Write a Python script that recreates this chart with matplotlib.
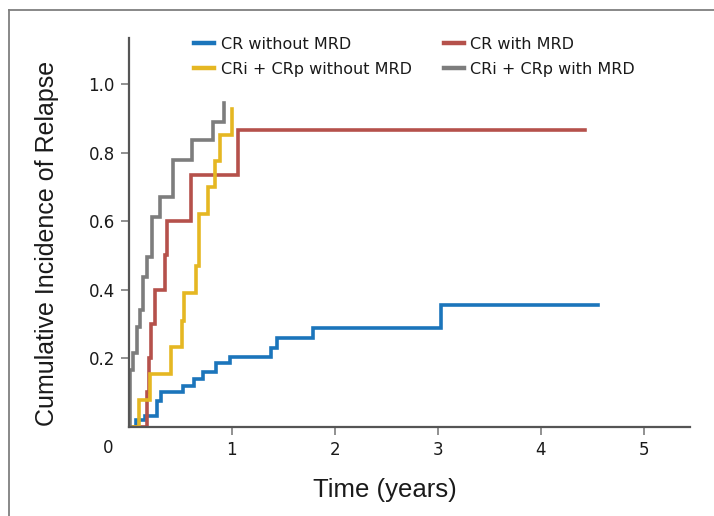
import matplotlib
matplotlib.use("Agg")
import matplotlib.pyplot as plt
from matplotlib.lines import Line2D

# ---- data ----
cr_no_mrd_t = [0, 0.07, 0.16, 0.275, 0.31, 0.53, 0.63, 0.72, 0.85, 0.98, 1.378, 1.437, 1.79, 3.03, 4.56]
cr_no_mrd_v = [0, 0.02, 0.031, 0.075, 0.10, 0.119, 0.139, 0.16, 0.185, 0.204, 0.229, 0.258, 0.289, 0.355, 0.355]

cr_mrd_t = [0, 0.175, 0.20, 0.22, 0.255, 0.35, 0.375, 0.60, 1.065, 4.43]
cr_mrd_v = [0, 0.10, 0.20, 0.30, 0.40, 0.50, 0.60, 0.735, 0.867, 0.867]

cri_no_mrd_t = [0, 0.10, 0.205, 0.41, 0.515, 0.54, 0.655, 0.685, 0.77, 0.835, 0.89, 1.0, 1.0]
cri_no_mrd_v = [0, 0.078, 0.155, 0.233, 0.31, 0.39, 0.47, 0.62, 0.70, 0.775, 0.853, 0.928, 0.928]

cri_mrd_t = [0, 0.013, 0.045, 0.078, 0.11, 0.142, 0.175, 0.23, 0.30, 0.434, 0.61, 0.82, 0.925, 0.925]
cri_mrd_v = [0, 0.165, 0.214, 0.29, 0.34, 0.437, 0.496, 0.613, 0.67, 0.78, 0.837, 0.89, 0.945, 0.945]

labels = ["CR without MRD", "CR with MRD", "CRi + CRp without MRD", "CRi + CRp with MRD"]
colors = ["#1b75bb", "#b5514b", "#e5b723", "#7d7d7d"]
x_ticks = [1, 2, 3, 4, 5]
y_ticks = [0.2, 0.4, 0.6, 0.8, 1.0]
y_ticklabels = ["0.2", "0.4", "0.6", "0.8", "1.0"]

W, H = 714, 516
fig = plt.figure(figsize=(W / 100, H / 100), dpi=100)
ax = fig.add_axes([128.7 / W, 1 - 426.7 / H, (690 - 128.7) / W, (426.7 - 38) / H])

series = [(cr_no_mrd_t, cr_no_mrd_v), (cr_mrd_t, cr_mrd_v),
          (cri_no_mrd_t, cri_no_mrd_v), (cri_mrd_t, cri_mrd_v)]
handles = []
for (t, v), c, lab in zip(series, colors, labels):
    h, = ax.step(t, v, where="post", color=c, lw=2.6, label=lab, solid_joinstyle="miter")
    handles.append(h)

ax.set_xlim(0, (690 - 128.7) / 103)
ax.set_ylim(0, (426.7 - 38) / 342.5)
ax.set_xticks(x_ticks)
ax.set_xticklabels([str(x) for x in x_ticks])
ax.set_yticks(y_ticks)
ax.set_yticklabels(y_ticklabels)

for s in ["top", "right"]:
    ax.spines[s].set_visible(False)
for s in ["left", "bottom"]:
    ax.spines[s].set_color("#555555")
    ax.spines[s].set_linewidth(1.6)

ax.tick_params(axis="both", direction="out", length=6, width=1.3, color="#888888",
               labelsize=12, labelcolor="#1a1a1a", pad=4)
for lbl in ax.get_xticklabels() + ax.get_yticklabels():
    lbl.set_family("DejaVu Sans")

# order legend: col1 = blue, yellow ; col2 = red, gray
order = [0, 2, 1, 3]
leg = ax.legend([handles[i] for i in order], [labels[i] for i in order], ncol=2,
                loc="upper left", bbox_to_anchor=(194 / W, 1 - 37 / H),
                bbox_transform=fig.transFigure, frameon=False,
                prop={"family": "DejaVu Sans", "size": 11.5},
                handlelength=1.25, handletextpad=0.42, columnspacing=2.0,
                labelspacing=0.6, borderpad=0, borderaxespad=0)
for lh in leg.get_lines():
    lh.set_linewidth(3.2)
for tx in leg.get_texts():
    tx.set_color("#1a1a1a")

fig.text(108 / W, 1 - 448 / H, "0", ha="center", va="center",
         family="DejaVu Sans", fontsize=12, color="#1a1a1a")

fig.text(47 / W, 1 - 243 / H, "Cumulative Incidence of Relapse", rotation=90,
         ha="center", va="center", family=["Liberation Sans", "DejaVu Sans"],
         fontsize=18, color="#1a1a1a")
fig.text(385 / W, 1 - 490 / H, "Time (years)", ha="center", va="center",
         family=["Liberation Sans", "DejaVu Sans"],
         fontsize=18.5, color="#1a1a1a")

# page frame (top and left edges)
fig.add_artist(Line2D([9 / W, 9 / W], [0, 1 - 10 / H], transform=fig.transFigure,
                      color="#7f7f7f", lw=1.3))
fig.add_artist(Line2D([9 / W, 1], [1 - 10 / H, 1 - 10 / H], transform=fig.transFigure,
                      color="#7f7f7f", lw=1.3))

fig.savefig("out.png", dpi=100, facecolor="white")
